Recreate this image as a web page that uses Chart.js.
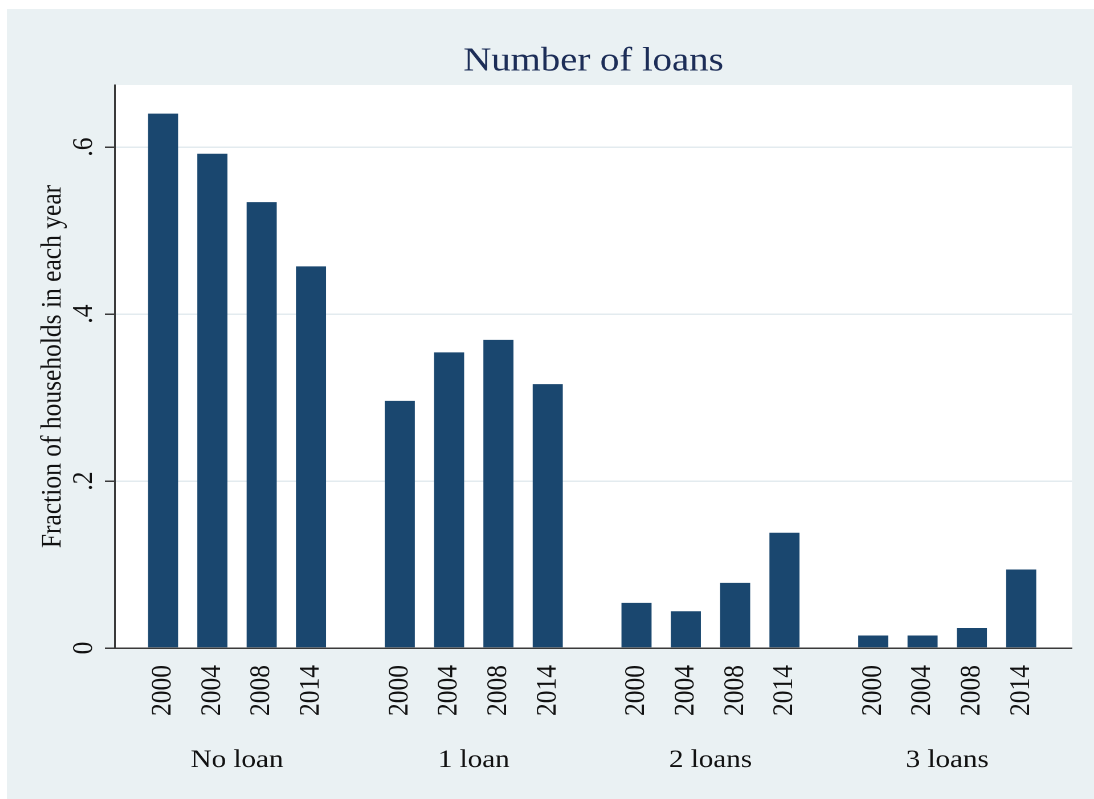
<!DOCTYPE html>
<html>
<head>
<meta charset="utf-8">
<script src="https://cdn.jsdelivr.net/npm/chart.js@4.4.1/dist/chart.umd.min.js"></script>
<style>
html,body{margin:0;padding:0;background:#ffffff;}
#c{position:absolute;left:7px;top:9px;background:#eaf1f3;}
</style>
</head>
<body>
<canvas id="c" width="954" height="790" style="width:1087px;height:790px;"></canvas>
<script>
// ---- data ----
const groups = ['No loan', '1 loan', '2 loans', '3 loans'];
const years = ['2000', '2004', '2008', '2014'];
const noLoan = [0.640, 0.592, 0.534, 0.457];
const oneLoan = [0.296, 0.354, 0.369, 0.316];
const twoLoans = [0.054, 0.044, 0.078, 0.138];
const threeLoans = [0.015, 0.015, 0.024, 0.094];
const yTickValues = [0, 0.2, 0.4, 0.6];
const yTickLabels = ['0', '.2', '.4', '.6'];

// ---- layout constants ----
const GROUP_STEP = 4.8;
const X_MIN = -0.974;
const X_MAX = 3 * GROUP_STEP + 3 + 1.03;
const FONT = 'Liberation Serif';

const seriesByGroup = [noLoan, oneLoan, twoLoans, threeLoans];
const points = [];
const xTicks = [];
const xTickLabels = [];
seriesByGroup.forEach((vals, g) => {
  vals.forEach((v, j) => {
    const x = g * GROUP_STEP + j;
    points.push({ x: x, y: v });
    xTicks.push(x);
    xTickLabels.push(years[j]);
  });
});
const groupCenters = groups.map((_, g) => g * GROUP_STEP + (years.length - 1) / 2);

const plotBg = {
  id: 'plotBg',
  beforeDraw(chart) {
    const { ctx, chartArea: a } = chart;
    ctx.save();
    ctx.fillStyle = '#ffffff';
    ctx.fillRect(a.left, a.top, a.right - a.left, a.bottom - a.top);
    ctx.restore();
  }
};

new Chart(document.getElementById('c'), {
  type: 'bar',
  data: {
    datasets: [{
      data: points,
      backgroundColor: '#1a476f',
      borderWidth: 0,
      barPercentage: 0.61,
      categoryPercentage: 1.0,
      xAxisID: 'x',
      yAxisID: 'y'
    }]
  },
  options: {
    responsive: false,
    animation: false,
    devicePixelRatio: 2,
    layout: { padding: { left: 0, top: 0, right: 19.3, bottom: 0 } },
    plugins: {
      legend: { display: false },
      tooltip: { enabled: false },
      title: {
        display: true,
        text: 'Number of loans',
        fullSize: false,
        color: '#1c2d57',
        font: { family: FONT, size: 34, weight: 'normal', lineHeight: 1.2 },
        padding: { top: 32.4, bottom: 2.8 }
      }
    },
    scales: {
      x: {
        type: 'linear',
        position: 'bottom',
        weight: 0,
        min: X_MIN,
        max: X_MAX,
        offset: false,
        grid: { display: false, offset: false },
        border: { display: true, color: '#3a3a3a', width: 1.5 },
        afterBuildTicks: s => { s.ticks = xTicks.map(v => ({ value: v })); },
        afterFit: s => { s.height = 80; },
        ticks: {
          autoSkip: false,
          minRotation: 90,
          maxRotation: 90,
          padding: 9,
          color: '#111111',
          font: { family: FONT, size: 25.5 },
          callback: (v, i) => xTickLabels[i]
        }
      },
      xg: {
        type: 'linear',
        position: 'bottom',
        weight: 1,
        min: X_MIN,
        max: X_MAX,
        offset: false,
        grid: { display: false },
        border: { display: false },
        afterBuildTicks: s => { s.ticks = groupCenters.map(v => ({ value: v })); },
        afterFit: s => { s.height = 71; },
        ticks: {
          autoSkip: false,
          minRotation: 0,
          maxRotation: 0,
          padding: 9,
          color: '#111111',
          font: { family: FONT, size: 25.5 },
          callback: (v, i) => groups[i]
        }
      },
      y: {
        type: 'linear',
        position: 'left',
        min: 0,
        max: 0.6743,
        grid: {
          color: '#e3ebef',
          lineWidth: 1.5,
          drawTicks: true,
          tickLength: 8.8,
          tickColor: '#3a3a3a',
          tickWidth: 1.5
        },
        border: { display: true, color: '#3a3a3a', width: 1.5 },
        afterBuildTicks: s => { s.ticks = yTickValues.map(v => ({ value: v })); },
        afterFit: s => { s.width = 94.8; },
        ticks: {
          minRotation: 90,
          maxRotation: 90,
          crossAlign: 'center',
          padding: 8.8,
          color: '#111111',
          font: { family: FONT, size: 25.5 },
          callback: (v, i) => yTickLabels[i]
        },
        title: {
          display: true,
          text: 'Fraction of households in each year',
          color: '#111111',
          font: { family: FONT, size: 25.5 },
          padding: { top: 25, bottom: 0 }
        }
      }
    }
  },
  plugins: [plotBg]
});
</script>
</body>
</html>
